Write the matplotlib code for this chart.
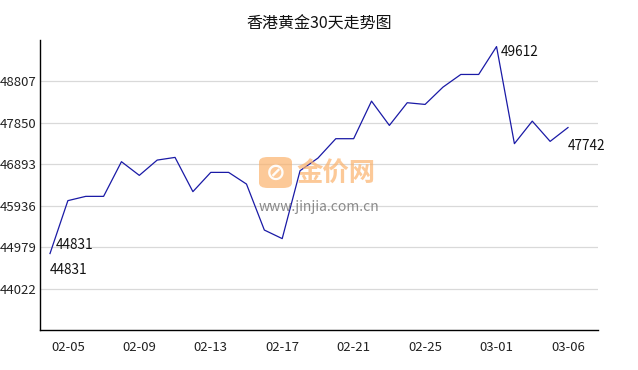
import matplotlib
matplotlib.use("Agg")
import matplotlib.pyplot as plt
from matplotlib.patches import FancyBboxPatch

plt.rcParams['font.family'] = ['Noto Sans CJK SC', 'DejaVu Sans']

dates = ["02-04", "02-05", "02-06", "02-07", "02-08", "02-09", "02-10", "02-11",
         "02-12", "02-13", "02-14", "02-15", "02-16", "02-17", "02-18", "02-19",
         "02-20", "02-21", "02-22", "02-23", "02-24", "02-25", "02-26", "02-27",
         "02-28", "03-01", "03-02", "03-03", "03-05", "03-06"]
prices = [44831, 46053, 46152, 46152, 46953, 46637, 46990, 47052, 46261, 46706,
          46706, 46436, 45374, 45176, 46745, 47036, 47484, 47484, 48352, 47791,
          48315, 48276, 48675, 48968, 48968, 49612, 47369, 47890, 47422, 47742]
tick_labels = ["02-05", "02-09", "02-13", "02-17", "02-21", "02-25", "03-01", "03-06"]
y_ticks = [44022, 44979, 45936, 46893, 47850, 48807]
title = "香港黄金30天走势图"

fig = plt.figure(figsize=(6.38, 3.70), dpi=100)
ax = fig.add_axes([40/638, 40/370, 558/638, 290/370])

x = list(range(len(prices)))
ax.plot(x, prices, color="#1a1aa6", linewidth=0.9, zorder=3)

ax.set_xlim(-0.56, 30.68)
ax.set_ylim(43065, 49764)
ax.set_yticks(y_ticks)
ax.set_yticklabels([str(v) for v in y_ticks])
ax.set_xticks([dates.index(t) for t in tick_labels])
ax.set_xticklabels(tick_labels)
ax.tick_params(axis='both', length=0, labelsize=9.5, colors="#222222")
ax.tick_params(axis='y', pad=2.5)
ax.tick_params(axis='x', pad=8)
ax.grid(axis='y', color="#d9d9d9", linewidth=0.9)
ax.set_axisbelow(True)
for s in ["top", "right"]:
    ax.spines[s].set_visible(False)
for s in ["left", "bottom"]:
    ax.spines[s].set_color("black")
    ax.spines[s].set_linewidth(1.0)

fig.text(0.5, 1 - 24/370, title, fontsize=11.5, color="#111111", ha="center", va="center")

# annotations
imax = prices.index(max(prices))
imin = prices.index(min(prices))
ax.annotate(str(prices[0]), (0, prices[0]), xytext=(4, 6), textcoords="offset points",
            fontsize=9.8, va="center", ha="left", color="#111111")
ax.annotate(str(prices[imin]), (imin, prices[imin]), xytext=(0, -12), textcoords="offset points",
            fontsize=9.8, va="center", ha="left", color="#111111")
ax.annotate(str(prices[imax]), (imax, prices[imax]), xytext=(3, -4), textcoords="offset points",
            fontsize=9.8, va="center", ha="left", color="#111111")
ax.annotate(str(prices[-1]), (len(prices)-1, prices[-1]), xytext=(0, -13), textcoords="offset points",
            fontsize=9.8, va="center", ha="left", color="#111111")

# watermark
icon = FancyBboxPatch((259/638, 1 - 188/370), 33/638, 31/370,
                      boxstyle="round,pad=0,rounding_size=0.014",
                      transform=fig.transFigure, facecolor="#fbb26c", edgecolor="none",
                      alpha=0.7, zorder=1)
fig.patches.append(icon)
fig.text(275.5/638, 1 - 172.5/370, "⊘", fontsize=17, color="white", ha="center", va="center",
         alpha=0.95, family=['DejaVu Sans'], fontweight="bold")
fig.text(296/638, 1 - 174/370, "金价网", fontsize=19, fontweight="bold", color="#fbb26c",
         alpha=0.7, ha="left", va="center")
fig.text(259/638, 1 - 207/370, "www.jinjia.com.cn", fontsize=10, color="#777777",
         alpha=0.85, ha="left", va="center")

fig.savefig("out.png", dpi=100)
